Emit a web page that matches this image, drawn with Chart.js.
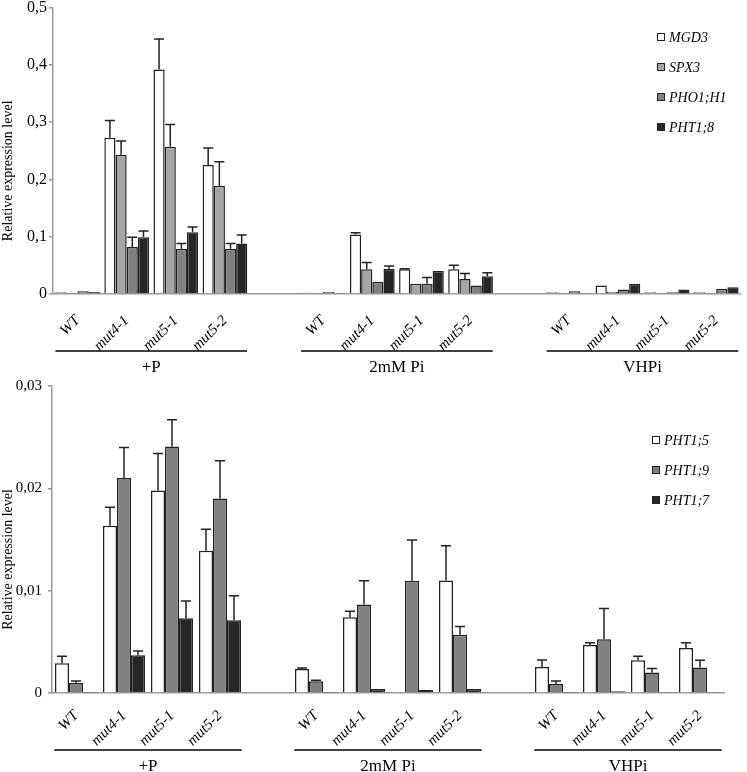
<!DOCTYPE html>
<html>
<head>
<meta charset="utf-8">
<script src="https://cdn.jsdelivr.net/npm/chart.js@4/dist/chart.umd.min.js"></script>
<style>
  body { margin: 0; background: #fff; }
  #wrap { position: relative; width: 747px; height: 772px; overflow: hidden; }
  .panel { position: absolute; left: 0; width: 747px; }
  .legend { position: absolute; font: italic 14px "Liberation Serif", serif; color: #000; }
  .legend div { position: absolute; left: 0; white-space: nowrap; line-height: 16px; }
  .legend span { display: inline-block; width: 6px; height: 6px; border: 1px solid #222; margin-right: 4px; vertical-align: 1px; }
</style>
</head>
<body>
<div id="wrap">
  <div class="panel" style="top:-4px;height:384px"><canvas id="topChart"></canvas></div>
  <div class="panel" style="top:371px;height:401px"><canvas id="bottomChart"></canvas></div>
  <div class="legend" id="legendTop" style="left:657px;top:30px"></div>
  <div class="legend" id="legendBottom" style="left:652px;top:433px"></div>
</div>
<script>
// categories: 4 genotypes per condition, blank slot between conditions
const categories = ['WT', 'mut4-1', 'mut5-1', 'mut5-2', '',
                    'WT', 'mut4-1', 'mut5-1', 'mut5-2', '',
                    'WT', 'mut4-1', 'mut5-1', 'mut5-2'];
const conditions = ['+P', '2mM Pi', 'VHPi'];
const conditionRanges = [[0, 3], [5, 8], [10, 13]];

// top panel
const topNames = ['MGD3', 'SPX3', 'PHO1;H1', 'PHT1;8'];
const topColors = ['#ffffff', '#a6a6a6', '#808080', '#262626'];
const mgd3 = [0.003, 0.273, 0.392, 0.225, null, 0.002, 0.104, 0.043, 0.043, null, 0.003, 0.015, 0.003, 0.003];
const mgd3Err = [null, 0.030, 0.053, 0.030, null, null, 0.003, 0.001, 0.007, null, null, null, null, null];
const spx3 = [0.001, 0.243, 0.257, 0.189, null, 0.001, 0.043, 0.018, 0.026, null, 0.001, 0.004, 0.001, 0.001];
const spx3Err = [null, 0.024, 0.039, 0.042, null, null, 0.012, null, 0.010, null, null, null, null, null];
const pho1h1 = [0.005, 0.082, 0.079, 0.079, null, 0.004, 0.021, 0.018, 0.015, null, 0.005, 0.008, 0.003, 0.009];
const pho1h1Err = [null, 0.017, 0.009, 0.009, null, null, null, 0.011, null, null, null, null, null, null];
const pht18 = [0.0035, 0.099, 0.108, 0.088, null, 0.002, 0.044, 0.040, 0.031, null, 0.001, 0.018, 0.008, 0.012];
const pht18Err = [null, 0.011, 0.009, 0.015, null, null, 0.005, null, 0.006, null, null, null, null, null];
const topTicks = ['0', '0,1', '0,2', '0,3', '0,4', '0,5'];

// bottom panel
const bottomNames = ['PHT1;5', 'PHT1;9', 'PHT1;7'];
const bottomColors = ['#ffffff', '#808080', '#262626'];
const pht15 = [0.0029, 0.01635, 0.0198, 0.0139, null, 0.00234, 0.0074, 0, 0.0110, null, 0.00253, 0.0047, 0.0032, 0.0044];
const pht15Err = [0.0007, 0.0018, 0.0036, 0.0021, null, 0.0001, 0.0006, null, 0.0034, null, 0.0007, 0.0002, 0.0004, 0.0005];
const pht19 = [0.00097, 0.0210, 0.0241, 0.0190, null, 0.00114, 0.00866, 0.01096, 0.0057, null, 0.00088, 0.00525, 0.0020, 0.0025];
const pht19Err = [0.0002, 0.0030, 0.0026, 0.0037, null, 0.0001, 0.0023, 0.0040, 0.0008, null, 0.0003, 0.0030, 0.0004, 0.0007];
const pht17 = [0.00003, 0.0037, 0.0073, 0.0071, null, 0.00003, 0.0004, 0.0003, 0.0004, null, 0.00003, 0.00016, 0.00005, 0.00005];
const pht17Err = [null, 0.0004, 0.0017, 0.0024, null, null, null, null, null, null, null, null, null, null];
const bottomTicks = ['0', '0,01', '0,02', '0,03'];

const serif = '"Liberation Serif", "Times New Roman", serif';

// upward error bars with a cap
const errorBars = {
    id: 'errorBars',
    afterDatasetsDraw(chart, args, opts) {
        const ctx = chart.ctx;
        const yScale = chart.scales.y;
        chart.data.datasets.forEach((ds, i) => {
            chart.getDatasetMeta(i).data.forEach((bar, j) => {
                const e = ds.errors[j];
                if (e == null || ds.data[j] == null) return;
                const top = yScale.getPixelForValue(ds.data[j] + e);
                ctx.save();
                ctx.strokeStyle = '#222';
                ctx.lineWidth = 1.5;
                ctx.beginPath();
                ctx.moveTo(bar.x, bar.y);
                ctx.lineTo(bar.x, top);
                ctx.moveTo(bar.x - opts.cap, top);
                ctx.lineTo(bar.x + opts.cap, top);
                ctx.stroke();
                ctx.restore();
            });
        });
    }
};

// condition brackets under the x labels + y title
const groupLines = {
    id: 'groupLines',
    afterDraw(chart, args, opts) {
        const ctx = chart.ctx;
        const x = chart.scales.x;
        const area = chart.chartArea;
        const step = x.getPixelForValue(1) - x.getPixelForValue(0);
        const yLine = area.bottom + opts.lineOffset;
        ctx.save();
        conditionRanges.forEach((r, k) => {
            const x0 = x.getPixelForValue(r[0]) - step * 0.45;
            const x1 = x.getPixelForValue(r[1]) + step * 0.45;
            ctx.strokeStyle = '#000';
            ctx.lineWidth = 1.6;
            ctx.beginPath();
            ctx.moveTo(x0, yLine);
            ctx.lineTo(x1, yLine);
            ctx.stroke();
            ctx.fillStyle = '#000';
            ctx.font = '17px ' + serif;
            ctx.textAlign = 'center';
            ctx.textBaseline = 'middle';
            ctx.fillText(conditions[k], (x0 + x1) / 2, yLine + opts.labelOffset);
        });
        ctx.translate(8, (area.top + area.bottom) / 2 + 20);
        ctx.rotate(-Math.PI / 2);
        ctx.font = '14px ' + serif;
        ctx.textAlign = 'center';
        ctx.textBaseline = 'middle';
        ctx.fillText('Relative expression level', 0, 0);
        ctx.restore();
    }
};

function makeChart(id, names, colors, series, errors, ticks, step, cfg) {
    const datasets = names.map((n, i) => ({
        label: n,
        data: series[i],
        errors: errors[i],
        backgroundColor: colors[i],
        borderColor: '#222',
        borderWidth: 1.5,
        categoryPercentage: cfg.catPct,
        barPercentage: 1
    }));
    return new Chart(document.getElementById(id), {
        type: 'bar',
        data: { labels: categories, datasets: datasets },
        plugins: [errorBars, groupLines],
        options: {
            responsive: true,
            maintainAspectRatio: false,
            animation: false,
            layout: { padding: { top: 0, right: cfg.padRight, bottom: 0, left: 0 } },
            plugins: {
                legend: { display: false },
                tooltip: { enabled: false },
                errorBars: { cap: 5 },
                groupLines: { lineOffset: 57, labelOffset: 17 }
            },
            scales: {
                x: {
                    grid: { display: false, drawTicks: false },
                    border: { color: '#999', width: 1.5 },
                    ticks: {
                        autoSkip: false,
                        minRotation: 45,
                        maxRotation: 45,
                        padding: cfg.xPad,
                        color: '#000',
                        font: { family: serif, size: 15, style: 'italic' }
                    },
                    afterFit: s => { s.height = cfg.xHeight; }
                },
                y: {
                    min: 0,
                    max: step * (ticks.length - 1),
                    grid: { drawOnChartArea: false, tickLength: 4, color: '#999', lineWidth: 1.5 },
                    border: { color: '#999', width: 1.5 },
                    ticks: {
                        stepSize: step,
                        padding: cfg.tickPad,
                        color: '#000',
                        font: { family: serif, size: cfg.tickSize },
                        callback: v => ticks[Math.round(v / step)]
                    },
                    afterFit: s => { s.width = cfg.yWidth; }
                }
            }
        }
    });
}

function buildLegend(id, names, colors) {
    const el = document.getElementById(id);
    names.forEach((n, i) => {
        const d = document.createElement('div');
        d.style.top = (i * 30) + 'px';
        d.innerHTML = '<span style="background:' + colors[i] + '"></span>' + n;
        el.appendChild(d);
    });
}

makeChart('topChart', topNames, topColors,
    [mgd3, spx3, pho1h1, pht18], [mgd3Err, spx3Err, pho1h1Err, pht18Err],
    topTicks, 0.1,
    { catPct: 0.91, padRight: 2, xHeight: 86, yWidth: 53, tickPad: 2, tickSize: 16, xPad: 18 });

makeChart('bottomChart', bottomNames, bottomColors,
    [pht15, pht19, pht17], [pht15Err, pht19Err, pht17Err],
    bottomTicks, 0.01,
    { catPct: 0.875, padRight: 23, xHeight: 79, yWidth: 52, tickPad: 6, tickSize: 15, xPad: 14 });

buildLegend('legendTop', topNames, topColors);
buildLegend('legendBottom', bottomNames, bottomColors);
</script>
</body>
</html>
